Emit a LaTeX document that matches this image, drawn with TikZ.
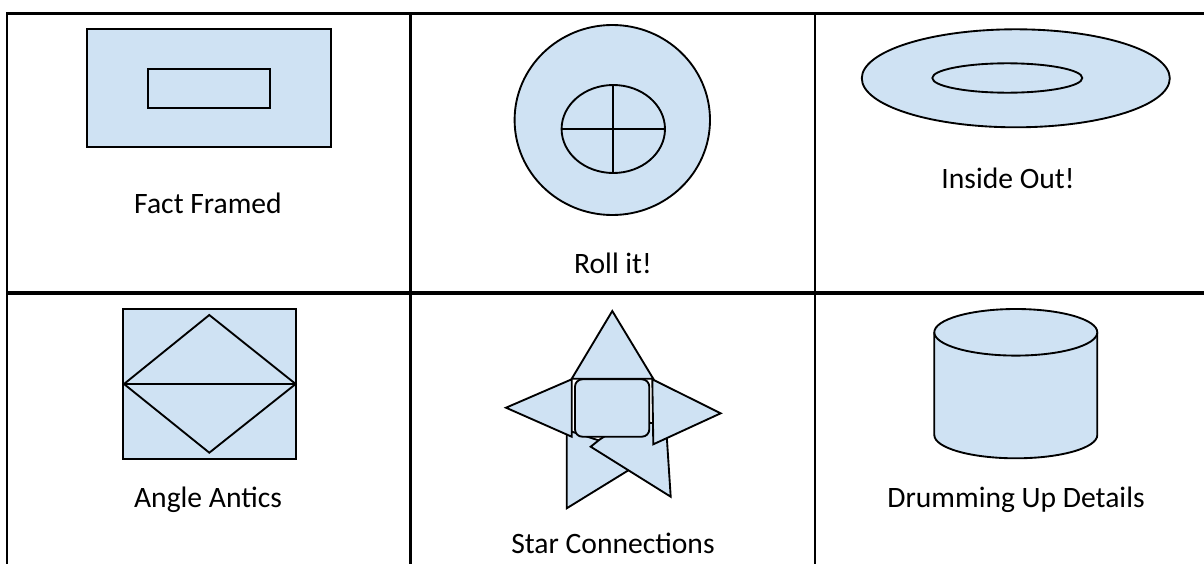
\documentclass[tikz,border=0pt]{standalone}
\usepackage{fontspec}
\setmainfont{Carlito}
\begin{document}
\begin{tikzpicture}[x=0.75pt,y=-0.75pt,
  blueshape/.style={draw=black,fill=shapeblue,line width=1.4pt,line join=miter},
  plainline/.style={draw=black,line width=1.4pt},
  gridline/.style={draw=black,line width=1.9pt},
  thickgridline/.style={draw=black,line width=2.4pt},
  lbl/.style={font=\fontsize{22.2}{26}\selectfont,inner sep=0pt,anchor=center}]
\definecolor{shapeblue}{RGB}{207,226,243}
\useasboundingbox (0,0) rectangle (1204,564);
% table
\draw[gridline] (7,13) -- (7,564);
\draw[gridline] (410.5,13) -- (410.5,564);
\draw[gridline] (815,13) -- (815,564);
\draw[thickgridline] (6,13.7) -- (1204,13.7);
\draw[thickgridline] (6,293) -- (1204,293);
% cell 1: Fact Framed
\draw[blueshape] (86.7,29.3) rectangle (330.7,147.3);
\draw[blueshape] (147.7,68.7) rectangle (269.7,108);
\node[lbl] (t1) at (208,203) {Fact Framed};
% cell 2: Roll it!
\draw[blueshape] (612.3,120) ellipse [x radius=97.7, y radius=95];
\draw[blueshape] (613.3,129) ellipse [x radius=51.7, y radius=44];
\draw[plainline] (613.3,85) -- (613.3,173);
\draw[plainline] (561.6,129) -- (665,129);
\node[lbl] (t2) at (613,263) {Roll it!};
% cell 3: Inside Out!
\draw[blueshape] (1015.8,78.3) ellipse [x radius=154, y radius=49];
\draw[blueshape] (1007.3,78) ellipse [x radius=75, y radius=14.7];
\node[lbl] (t3) at (1008,178) {Inside Out!};
% cell 4: Angle Antics
\draw[blueshape] (123.3,309.3) rectangle (295.7,458.7);
\draw[plainline,line join=miter] (209.3,315) -- (124,384) -- (209.3,452.7) -- (295.7,384) -- cycle;
\draw[plainline] (124,384) -- (295.7,384);
\node[lbl] (t4) at (208,500) {Angle Antics};
% cell 5: Star Connections
\draw[blueshape] (566.7,430) -- (566.7,508.3) -- (650,457) -- cycle;
\draw[blueshape] (590.7,446.7) -- (600,439.3) -- (630,420) -- (666,425) -- (670.7,496.7) -- cycle;
\draw[blueshape] (506,407.7) -- (571.7,379.3) -- (571.7,436.7) -- cycle;
\draw[blueshape] (720.7,413.3) -- (652.3,379.3) -- (653.3,444.3) -- cycle;
\draw[blueshape] (612.3,311) -- (571.7,378.8) -- (653.3,378.8) -- cycle;
\fill[white] (572.8,380) rectangle (575,420);
\fill[white] (649.3,380) rectangle (651.3,410);
\draw[blueshape,rounded corners=5.5pt] (575,379.3) rectangle (649.3,436.7);
\node[lbl] (t5) at (613,543) {Star Connections};
% cell 6: Drumming Up Details
\draw[blueshape] (934.3,332.3) -- (934.3,435) arc [start angle=180, end angle=0, x radius=81.5, y radius=23.3] -- (1097.3,332.3);
\draw[blueshape] (1015.8,332.3) ellipse [x radius=81.5, y radius=23.3];
\node[lbl] (t6) at (1016,500) {Drumming Up Details};
\end{tikzpicture}
\end{document}
